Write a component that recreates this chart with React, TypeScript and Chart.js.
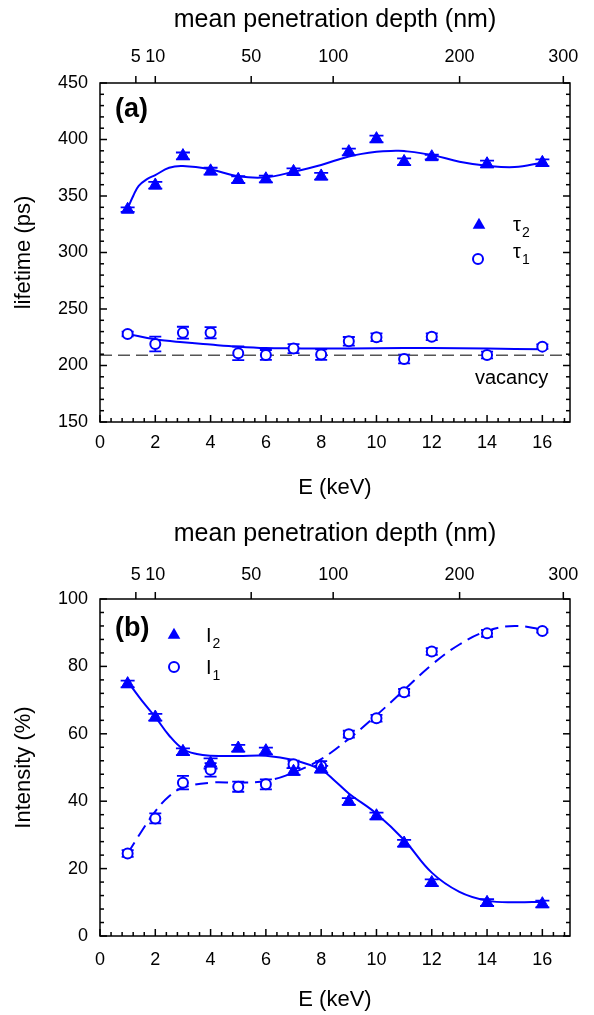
import React, { useEffect, useRef } from "react";
import { Chart, registerables } from "chart.js";

Chart.register(...registerables);

const FONT = "'Liberation Sans', Arial, Helvetica, sans-serif";
const BLUE = "#0000ff";

// ---------- data ----------
const energies = [1, 2, 3, 4, 5, 6, 7, 8, 9, 10, 11, 12, 14, 16];

// panel (a): lifetimes (ps)
const tau2 = [338, 359.5, 385.5, 372, 364.5, 365, 371.5, 367.5, 389, 400.5, 380.3, 384.5, 378.3, 379.5];
const tau2Err = [2, 3, 3, 3, 3, 3, 3, 3, 3, 3, 3, 2, 3, 3];
const tau1 = [227.9, 219, 229, 229, 210.8, 209.3, 215, 209.7, 221.4, 225, 205.7, 225.5, 209.3, 216.7];
const tau1Err = [2, 6.5, 5.3, 5, 6, 4.4, 4, 4.7, 3.8, 3.5, 3.8, 3, 3, 2];
const vacancyLifetime = 209;

const tau2FitE = [1, 1.2, 1.4, 1.7, 2, 2.5, 3, 4, 5, 6, 7, 8, 9, 10, 10.7, 11, 12, 13, 14, 15, 16];
const tau2Fit = [339, 350, 359, 365, 368.5, 375, 376.5, 373.5, 367.5, 366.5, 371.5, 377.5, 385, 389.2, 390, 389.8, 386.3, 380.4, 376.8, 375.6, 379.5];
const tau1FitE = [1, 2, 3, 4, 5, 6, 7, 8, 10, 12, 14, 16];
const tau1Fit = [228, 223.2, 220.5, 218.5, 216.7, 215.5, 215.2, 215, 215.3, 215.5, 215, 214.3];

// panel (b): intensities (%)
const int2 = [74.8, 64.9, 54.7, 51.2, 55.7, 54.9, 48.8, 49.5, 39.9, 35.6, 27.5, 15.8, 9.9, 9.5];
const int2Err = [1, 1, 1, 1.5, 1, 1, 1, 1, 1, 1, 1, 1, 1, 1];
const int1 = [24.5, 34.9, 45.5, 49.3, 44.3, 45, 51, 50.4, 59.9, 64.6, 72.3, 84.4, 89.8, 90.5];
const int1Err = [1, 1.5, 2, 2, 1.5, 1.5, 1, 1.5, 1, 1, 1, 1, 1, 0.5];

const int2FitE = [1, 1.5, 2, 2.5, 3, 3.5, 4, 5, 6, 7, 8, 8.5, 9, 10, 11, 12, 13, 14, 15, 16];
const int2Fit = [75.5, 70, 65, 59.5, 55.5, 54, 53.5, 53.4, 53.5, 52.2, 49.3, 46, 42.3, 36.3, 28.5, 18.8, 13.1, 10.5, 10, 10.2];
const int1FitE = [1, 1.5, 2, 2.5, 3, 4, 5, 6, 7, 8, 9, 10, 11, 12, 13, 14, 15, 16];
const int1Fit = [24.5, 31, 37, 41.5, 44, 45.5, 45.5, 46, 48.5, 52.5, 58.5, 65.5, 73, 80.5, 86.5, 90.5, 92, 91];

// axis ticks
const energyTickStep = 2;
const depthTickLabels = [5, 10, 50, 100, 200, 300];
// Makhov mean depth: d(nm) = 10 * (E/2)^1.6  ->  E = 2 * (d/10)^(1/1.6)
const depthToEnergy = (d: number) => 2 * Math.pow(d / 10, 1 / 1.6);

const zip = (xs: number[], ys: number[]) => xs.map((x, i) => ({ x, y: ys[i] }));

// ---------- plugin: frame, inward ticks, error bars, legend, labels ----------
const framePlugin: any = {
  id: "frame",
  beforeDatasetsDraw(chart: any) {
    const { ctx } = chart;
    const xs = chart.scales.x;
    const ys = chart.scales.y;
    chart.data.datasets.forEach((ds: any) => {
      if (!ds.errors) return;
      ctx.save();
      ctx.strokeStyle = ds.borderColor;
      ctx.lineWidth = 1.8;
      ds.data.forEach((p: any, j: number) => {
        const e = ds.errors[j];
        const px = xs.getPixelForValue(p.x);
        const y1 = ys.getPixelForValue(p.y - e);
        const y2 = ys.getPixelForValue(p.y + e);
        const hw = ds.capHalf;
        ctx.beginPath();
        ctx.moveTo(px, y1);
        ctx.lineTo(px, y2);
        ctx.moveTo(px - hw, y1);
        ctx.lineTo(px + hw, y1);
        ctx.moveTo(px - hw, y2);
        ctx.lineTo(px + hw, y2);
        ctx.stroke();
      });
      ctx.restore();
    });
  },
  afterDraw(chart: any, _args: any, opts: any) {
    const { ctx, chartArea: ca } = chart;
    const xs = chart.scales.x;
    const ys = chart.scales.y;
    const x2 = chart.scales.x2;
    ctx.save();
    ctx.strokeStyle = "#000";
    ctx.lineWidth = 1.5;
    ctx.strokeRect(ca.left, ca.top, ca.right - ca.left, ca.bottom - ca.top);
    const seg = (a: number, b: number, c: number, d: number) => {
      ctx.beginPath();
      ctx.moveTo(a, b);
      ctx.lineTo(c, d);
      ctx.stroke();
    };
    // y ticks (left and right, inward)
    const ny = Math.round((ys.max - ys.min) / opts.yMinor);
    for (let i = 0; i <= ny; i++) {
      const v = ys.min + i * opts.yMinor;
      const p = ys.getPixelForValue(v);
      const r = v / opts.yMajor;
      const major = Math.abs(r - Math.round(r)) < 1e-6;
      const L = major ? 7 : 4;
      seg(ca.left, p, ca.left + L, p);
      seg(ca.right - L, p, ca.right, p);
    }
    // x ticks (bottom, inward)
    const nx = Math.floor((xs.max - xs.min) / opts.xMinor + 1e-6);
    for (let i = 0; i <= nx; i++) {
      const v = xs.min + i * opts.xMinor;
      const p = xs.getPixelForValue(v);
      const r = v / energyTickStep;
      const major = Math.abs(r - Math.round(r)) < 1e-6;
      const L = major ? 7 : 4;
      seg(p, ca.bottom, p, ca.bottom - L);
    }
    // top axis ticks (outward)
    x2.ticks.forEach((t: any) => {
      const p = x2.getPixelForValue(t.value);
      seg(p, ca.top, p, ca.top - 7);
    });

    // legend
    (opts.legend || []).forEach((it: any) => {
      ctx.fillStyle = BLUE;
      ctx.strokeStyle = BLUE;
      if (it.marker === "triangle") {
        const r = 7.3;
        ctx.beginPath();
        ctx.moveTo(it.mx, it.my - r);
        ctx.lineTo(it.mx + r * Math.sin((2 * Math.PI) / 3), it.my + r / 2);
        ctx.lineTo(it.mx - r * Math.sin((2 * Math.PI) / 3), it.my + r / 2);
        ctx.closePath();
        ctx.fill();
      } else {
        ctx.lineWidth = 2;
        ctx.beginPath();
        ctx.arc(it.mx, it.my, 5, 0, Math.PI * 2);
        ctx.fillStyle = "#fff";
        ctx.fill();
        ctx.stroke();
      }
      ctx.fillStyle = "#000";
      ctx.textAlign = "left";
      ctx.textBaseline = "alphabetic";
      ctx.font = `20px ${FONT}`;
      ctx.fillText(it.main, it.tx, it.ty);
      const w = ctx.measureText(it.main).width;
      ctx.font = `14px ${FONT}`;
      ctx.fillText(it.sub, it.tx + w + 1, it.ty + 6);
    });

    // free labels
    (opts.texts || []).forEach((t: any) => {
      ctx.fillStyle = "#000";
      ctx.textAlign = "left";
      ctx.textBaseline = "alphabetic";
      ctx.font = t.font;
      ctx.fillText(t.text, t.x, t.y);
    });
    ctx.restore();
  },
};

type PanelCfg = {
  canvasH: number;
  plotTop: number;
  plotBottom: number;
  yMin: number;
  yMax: number;
  yMajor: number;
  yMinor: number;
  yTitle: string;
  datasets: any[];
  legend: any[];
  texts: any[];
  topLabelPad: number;
  topTitlePad: number;
  bottomLabelPad: number;
  bottomTitlePad: number;
};

function buildConfig(p: PanelCfg): any {
  const tickFont = { family: FONT, size: 18 };
  const titleFont = { family: FONT, size: 22 };
  return {
    type: "scatter",
    data: { datasets: p.datasets },
    plugins: [framePlugin],
    options: {
      animation: false,
      responsive: false,
      devicePixelRatio: 1,
      layout: { padding: { left: 0, right: 24, top: 0, bottom: 0 } },
      plugins: {
        legend: { display: false },
        tooltip: { enabled: false },
        frame: { yMajor: p.yMajor, yMinor: p.yMinor, xMinor: 0.4, legend: p.legend, texts: p.texts },
      },
      scales: {
        x: {
          type: "linear",
          position: "bottom",
          min: 0,
          max: 17,
          grid: { display: false, drawTicks: false },
          border: { display: false },
          ticks: { stepSize: energyTickStep, includeBounds: false, font: tickFont, color: "#000", padding: p.bottomLabelPad, maxRotation: 0, autoSkip: false },
          title: { display: true, text: "E (keV)", font: titleFont, color: "#000", padding: { top: 0, bottom: p.bottomTitlePad } },
          afterFit: (s: any) => {
            s.height = p.canvasH - p.plotBottom;
          },
        },
        x2: {
          type: "linear",
          position: "top",
          min: 0,
          max: 17,
          grid: { display: false, drawTicks: false },
          border: { display: false },
          afterBuildTicks: (s: any) => {
            s.ticks = depthTickLabels.map((d) => ({ value: depthToEnergy(d) }));
          },
          ticks: {
            font: tickFont,
            color: "#000",
            padding: p.topLabelPad,
            maxRotation: 0,
            autoSkip: false,
            callback: (_v: any, i: number) => String(depthTickLabels[i]),
          },
          title: { display: true, text: "mean penetration depth (nm)", font: { family: FONT, size: 25 }, color: "#000", padding: { top: p.topTitlePad, bottom: 0 } },
          afterFit: (s: any) => {
            s.height = p.plotTop;
          },
        },
        y: {
          type: "linear",
          position: "left",
          min: p.yMin,
          max: p.yMax,
          grid: { display: false, drawTicks: false },
          border: { display: false },
          ticks: { stepSize: p.yMajor, font: tickFont, color: "#000", padding: 12 },
          title: { display: true, text: p.yTitle, font: titleFont, color: "#000", padding: { top: 11, bottom: 0 } },
          afterFit: (s: any) => {
            s.width = 100;
          },
        },
      },
    },
  };
}

const triangleStyle = {
  pointStyle: "triangle",
  pointRadius: 7.3,
  pointBackgroundColor: BLUE,
  pointBorderColor: BLUE,
  pointBorderWidth: 1,
  borderColor: BLUE,
  backgroundColor: BLUE,
  showLine: false,
  capHalf: 7,
};
const circleStyle = {
  pointStyle: "circle",
  pointRadius: 5,
  pointBackgroundColor: "#ffffff",
  pointBorderColor: BLUE,
  pointBorderWidth: 2,
  borderColor: BLUE,
  backgroundColor: "#ffffff",
  showLine: false,
  capHalf: 6,
};
const fitStyle = {
  showLine: true,
  pointRadius: 0,
  borderColor: BLUE,
  borderWidth: 2,
  tension: 0.4,
  fill: false,
};

const panelA: PanelCfg = {
  canvasH: 515,
  plotTop: 83,
  plotBottom: 422,
  yMin: 150,
  yMax: 450,
  yMajor: 50,
  yMinor: 10,
  yTitle: "lifetime (ps)",
  topLabelPad: 15,
  topTitlePad: 5,
  bottomLabelPad: 10,
  bottomTitlePad: 14,
  datasets: [
    { label: "τ2", data: zip(energies, tau2), errors: tau2Err, ...triangleStyle },
    { label: "τ1", data: zip(energies, tau1), errors: tau1Err, ...circleStyle },
    { label: "τ2 fit", data: zip(tau2FitE, tau2Fit), ...fitStyle },
    { label: "τ1 fit", data: zip(tau1FitE, tau1Fit), ...fitStyle },
    {
      label: "vacancy",
      data: [
        { x: 0, y: vacancyLifetime },
        { x: 17, y: vacancyLifetime },
      ],
      showLine: true,
      pointRadius: 0,
      borderColor: "#555555",
      borderWidth: 1.5,
      borderDash: [12, 6],
      tension: 0,
    },
  ],
  legend: [
    { marker: "triangle", mx: 479, my: 225, main: "τ", sub: "2", tx: 513, ty: 231 },
    { marker: "circle", mx: 478, my: 259, main: "τ", sub: "1", tx: 513, ty: 258 },
  ],
  texts: [
    { text: "(a)", x: 115, y: 117, font: `bold 27px ${FONT}` },
    { text: "vacancy", x: 475, y: 384, font: `20px ${FONT}` },
  ],
};

const panelB: PanelCfg = {
  canvasH: 500,
  plotTop: 84,
  plotBottom: 421,
  yMin: 0,
  yMax: 100,
  yMajor: 20,
  yMinor: 4,
  yTitle: "Intensity (%)",
  topLabelPad: 13,
  topTitlePad: 4,
  bottomLabelPad: 13,
  bottomTitlePad: 2,
  datasets: [
    { label: "I2", data: zip(energies, int2), errors: int2Err, ...triangleStyle },
    { label: "I1", data: zip(energies, int1), errors: int1Err, ...circleStyle },
    { label: "I2 fit", data: zip(int2FitE, int2Fit), ...fitStyle },
    { label: "I1 fit", data: zip(int1FitE, int1Fit), ...fitStyle, borderDash: [13, 7] },
  ],
  legend: [
    { marker: "triangle", mx: 174, my: 120, main: "I", sub: "2", tx: 206, ty: 127 },
    { marker: "circle", mx: 174, my: 152, main: "I", sub: "1", tx: 206, ty: 159 },
  ],
  texts: [{ text: "(b)", x: 115, y: 121, font: `bold 27px ${FONT}` }],
};

function Panel({ cfg }: { cfg: PanelCfg }) {
  const ref = useRef<HTMLCanvasElement>(null);
  useEffect(() => {
    const chart = new Chart(ref.current as HTMLCanvasElement, buildConfig(cfg));
    return () => chart.destroy();
  }, [cfg]);
  return <canvas ref={ref} width={594} height={cfg.canvasH} style={{ display: "block", width: 594, height: cfg.canvasH }} />;
}

export default function App() {
  return (
    <div style={{ position: "absolute", left: 0, top: 0, width: 594, background: "#fff" }}>
      <Panel cfg={panelA} />
      <Panel cfg={panelB} />
    </div>
  );
}
